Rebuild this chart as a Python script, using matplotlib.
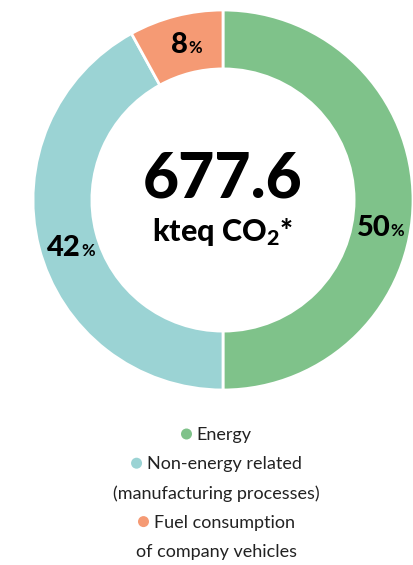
import matplotlib
matplotlib.use("Agg")
import matplotlib.pyplot as plt
from matplotlib.patches import Circle
import numpy as np

plt.rcParams["mathtext.fontset"] = "custom"
plt.rcParams["mathtext.rm"] = "Lato:black"
plt.rcParams["mathtext.bf"] = "Lato:black"
plt.rcParams["mathtext.it"] = "Lato:black"

categories = ["Energy", "Non-energy related\n(manufacturing processes)", "Fuel consumption\nof company vehicles"]
values = [50, 42, 8]
colors = ["#7fc28a", "#9bd3d4", "#f59a74"]
total_value = "677.6"
unit = "kteq CO$_\\mathbf{2}$*"
label_angle_shift = [-10, 3, -1]

W, H = 413, 565
fig = plt.figure(figsize=(W/100, H/100), dpi=100)
fig.patch.set_facecolor("white")

cx, cy, R = 223, 200, 190
ax = fig.add_axes([(cx-R)/W, (H-cy-R)/H, 2*R/W, 2*R/H])

wedges, _ = ax.pie(values, colors=colors, startangle=90, counterclock=False, radius=1,
                   wedgeprops=dict(width=0.31, edgecolor="white", linewidth=2))
ax.set_xlim(-1, 1); ax.set_ylim(-1, 1); ax.set_aspect("equal"); ax.axis("off")

fam = ["Lato", "DejaVu Sans"]
ax.text(0, 0.11, total_value, ha="center", va="center", fontsize=45, fontweight="black", family=fam, color="black")
ax.text(0, -0.17, unit, ha="center", va="center", fontsize=22, fontweight="black", family=fam, color="black")

fig.canvas.draw()
renderer = fig.canvas.get_renderer()
cum = 0
for v, sh in zip(values, label_angle_shift):
    mid = 90 - (cum + v/2) * 3.6 + sh
    cum += v
    r = 0.84
    x, y = r*np.cos(np.radians(mid)), r*np.sin(np.radians(mid))
    t1 = ax.text(x, y, f"{v}", ha="left", va="baseline", fontsize=21, fontweight="black", family=fam)
    t2 = ax.text(x, y, "%", ha="left", va="baseline", fontsize=12, fontweight="bold", family=fam)
    e1 = t1.get_window_extent(renderer); e2 = t2.get_window_extent(renderer)
    tw = e1.width + e2.width
    px, py = ax.transData.transform((x, y))
    left = px - tw/2
    base = py - 8
    inv = ax.transData.inverted()
    t1.set_position(inv.transform((left, base)))
    t2.set_position(inv.transform((left + e1.width + 0.5, base)))

# legend
lines = []
for name, c in zip(categories, colors):
    parts = name.split("\n")
    lines.append((parts[0], c))
    for p in parts[1:]:
        lines.append((p, None))
y0, dy, xc = 435, 29.2, 216
for i, (txt, c) in enumerate(lines):
    yy = H - (y0 + i*dy)
    t = fig.text(0, yy/H, txt, ha="left", va="center", fontsize=13, family=fam, color="#222222")
    w = t.get_window_extent(renderer).width
    mw = 16 if c else 0
    left = xc - (w + mw)/2 + mw
    t.set_position((left/W, yy/H))
    if c:
        fig.patches.append(Circle((left - 10, yy + 1), 5.5, transform=None, facecolor=c, edgecolor="none"))

fig.savefig("out.png", dpi=100, facecolor="white")
